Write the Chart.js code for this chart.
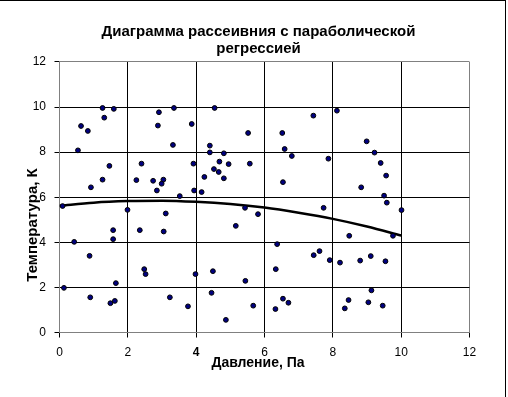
<!DOCTYPE html>
<html>
<head>
<meta charset="utf-8">
<script src="https://cdn.jsdelivr.net/npm/chart.js@4/dist/chart.umd.min.js"></script>
<style>
  html, body { margin: 0; padding: 0; background: #fff; }
  #wrap { position: relative; width: 508px; height: 397px; }
  #frame {
    position: absolute; left: 0; top: 0; width: 505px; height: 396px;
    border-top: 1px solid #000; border-right: 1px solid #000;
    pointer-events: none;
  }
</style>
</head>
<body>
<div id="wrap">
  <canvas id="chart" width="508" height="397"></canvas>
  <div id="frame"></div>
</div>
<script>
  const chartTitle = ["Диаграмма рассеивния с параболической", "регрессией"];
  const xTitle = "Давление, Па";
  const yTitle = "Температура, К";
  const axisTicks = [0, 2, 4, 6, 8, 10, 12];

  // scatter points
  const pressure = [
    1.26, 1.59, 1.31, 0.63, 0.83, 0.54, 1.46, 1.26, 0.92, 2.91,
    3.35, 2.88, 3.87, 3.32, 2.40, 3.92, 2.25, 2.74, 3.04, 2.99,
    2.85, 3.52, 3.94, 4.16, 4.54, 5.52, 4.40, 4.40, 4.81, 4.68,
    4.95, 5.57, 4.52, 4.66, 4.24, 4.81, 7.43, 8.12, 6.52, 6.59,
    6.80, 7.87, 6.54, 8.99, 9.22, 9.40, 9.56, 8.83, 9.50, 0.09,
    1.99, 3.11, 1.57, 2.35, 3.05, 1.57, 0.43, 0.88, 2.48, 2.52,
    3.98, 1.65, 0.13, 0.90, 3.23, 1.49, 1.62, 3.76, 5.43, 5.81,
    5.16, 7.73, 6.37, 7.44, 7.61, 7.91, 8.21, 4.49, 5.44, 6.33,
    4.45, 5.67, 4.87, 6.54, 6.70, 6.32, 9.58, 10.01, 8.48, 9.76,
    8.80, 9.11, 9.54, 9.13, 8.46, 9.04, 8.35, 9.46
  ];
  const temperature = [
    9.96, 9.92, 9.53, 9.16, 8.94, 8.08, 7.39, 6.78, 6.44, 9.77,
    9.96, 9.18, 9.25, 8.32, 7.49, 7.49, 6.76, 6.73, 6.78, 6.60,
    6.30, 6.05, 6.30, 6.23, 9.96, 8.85, 8.29, 7.99, 7.95, 7.58,
    7.47, 7.49, 7.25, 7.12, 6.90, 6.84, 9.62, 9.84, 8.85, 8.14,
    7.83, 7.71, 6.67, 8.48, 7.98, 7.52, 6.96, 6.44, 6.07, 5.61,
    5.44, 5.28, 4.54, 4.54, 4.48, 4.14, 4.02, 3.40, 2.81, 2.59,
    2.59, 2.19, 1.98, 1.56, 1.56, 1.30, 1.40, 1.16, 5.53, 5.25,
    4.73, 5.53, 3.92, 3.43, 3.61, 3.21, 3.10, 2.72, 2.29, 2.81,
    1.76, 1.19, 0.56, 1.50, 1.32, 1.04, 5.76, 5.43, 4.29, 4.29,
    3.19, 3.39, 3.16, 1.87, 1.44, 1.34, 1.07, 1.19
  ];

  // regression curve, read at whole x values
  const trendX = [0, 1, 2, 3, 4, 5, 6, 7, 8, 9, 10];
  const trendY = [5.62, 5.76, 5.83, 5.85, 5.80, 5.70, 5.54, 5.31, 5.04, 4.70, 4.30];

  Chart.defaults.font.family = '"Liberation Sans", Arial, sans-serif';
  Chart.defaults.color = "#000";

  const edgeGrey = "#808080";
  const gridColor = (ctx) =>
    ctx.tick && (ctx.tick.value === 0 || ctx.tick.value === 12) ? edgeGrey : "#000";

  // axis titles sit off-centre in the original, so draw them here
  const axisTitlePlugin = {
    id: "axisTitles",
    afterDraw(chart) {
      const { ctx } = chart;
      ctx.save();
      ctx.fillStyle = "#000";
      ctx.textAlign = "center";
      ctx.textBaseline = "middle";
      ctx.font = 'bold 14px "Liberation Sans", Arial, sans-serif';
      ctx.fillText(xTitle, 258, 363);
      ctx.translate(33, 225);
      ctx.rotate(-Math.PI / 2);
      ctx.font = 'bold 15px "Liberation Sans", Arial, sans-serif';
      ctx.fillText(yTitle, 0, 0);
      ctx.restore();
    },
  };

  new Chart(document.getElementById("chart"), {
    type: "scatter",
    data: {
      datasets: [
        {
          label: "Данные",
          data: pressure.map((x, i) => ({ x: x, y: temperature[i] })),
          backgroundColor: "#000080",
          borderColor: "#000",
          borderWidth: 1,
          pointRadius: 2.4,
          pointHoverRadius: 2.4,
        },
        {
          label: "Регрессия",
          data: trendX.map((x, i) => ({ x: x, y: trendY[i] })),
          showLine: true,
          borderColor: "#000",
          borderWidth: 2.5,
          pointRadius: 0,
          cubicInterpolationMode: "monotone",
          fill: false,
        },
      ],
    },
    options: {
      responsive: false,
      animation: false,
      layout: { padding: { left: 9, right: 0, top: 0, bottom: 0 } },
      plugins: {
        legend: { display: false },
        tooltip: { enabled: false },
        title: {
          display: true,
          text: chartTitle,
          color: "#000",
          font: { size: 15, weight: "bold", lineHeight: 1.133 },
          padding: { top: 23.5, bottom: 4.5 },
        },
      },
      scales: {
        x: {
          type: "linear",
          min: 0,
          max: 12,
          afterBuildTicks: (s) => { s.ticks = axisTicks.map((v) => ({ value: v })); },
          afterFit: (s) => { s.height = 64.5; },
          grid: { color: gridColor, tickColor: "#000", tickLength: 5, lineWidth: 1 },
          border: { display: true, color: edgeGrey },
          ticks: {
            padding: 7.5,
            color: "#000",
            font: (ctx) => ({ size: 12, weight: ctx.tick && ctx.tick.value === 4 ? "bold" : "normal" }),
          },
        },
        y: {
          type: "linear",
          min: 0,
          max: 12,
          afterBuildTicks: (s) => { s.ticks = axisTicks.map((v) => ({ value: v })); },
          afterFit: (s) => { s.width = 50.5; },
          grid: { color: gridColor, tickColor: "#000", tickLength: 5, lineWidth: 1 },
          border: { display: true, color: edgeGrey },
          ticks: { padding: 8.5, color: "#000", font: { size: 12 } },
        },
        y2: {
          position: "right",
          display: true,
          afterFit: (s) => { s.width = 38.5; },
          grid: { display: false },
          border: { display: false },
          ticks: { display: false },
        },
      },
    },
    plugins: [axisTitlePlugin],
  });
</script>
</body>
</html>
